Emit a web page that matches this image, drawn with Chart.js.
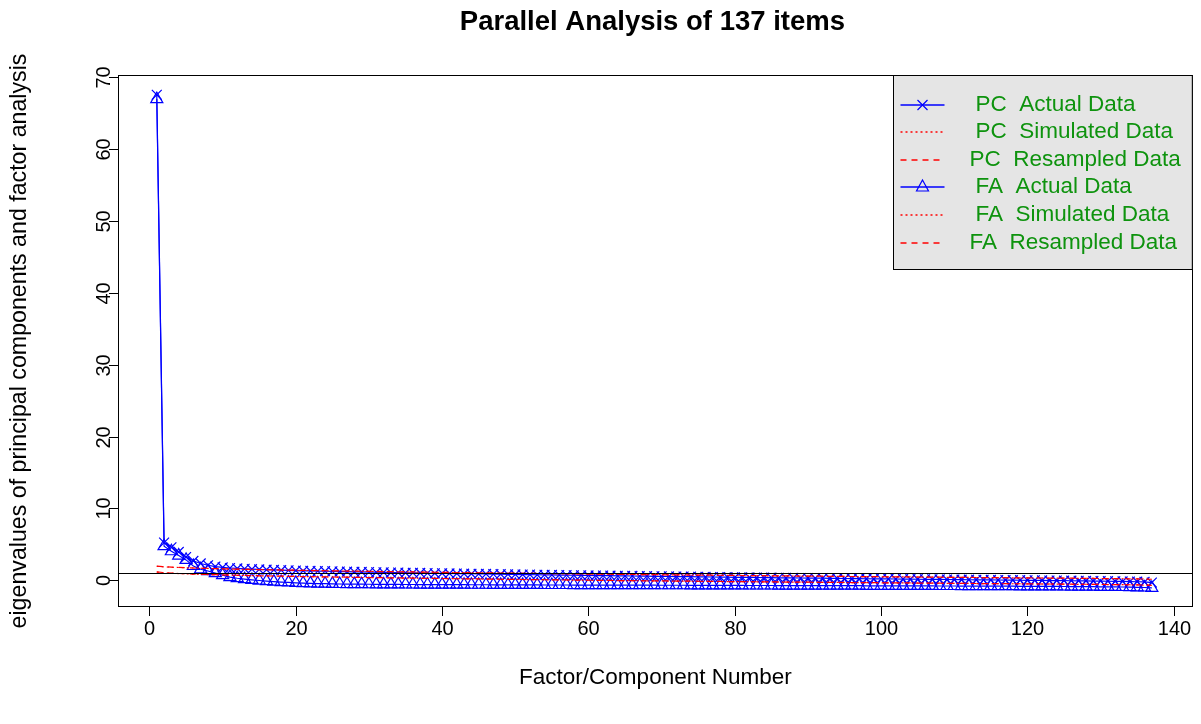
<!DOCTYPE html>
<html>
<head>
<meta charset="utf-8">
<script src="https://cdn.jsdelivr.net/npm/chart.js@4.4.1/dist/chart.umd.min.js"></script>
<style>
  body { margin: 0; background: #fff; }
  #wrap { width: 1201px; height: 724px; }
</style>
</head>
<body>
<div id="wrap"><canvas id="paChart" width="1201" height="724"></canvas></div>
<script>
const chartTitle = 'Parallel Analysis of 137 items';
const xTitle = 'Factor/Component Number';
const yTitle = 'eigenvalues of principal components and factor analysis';

const factors = Array.from({ length: 137 }, (_, i) => i + 1);
const xTicks = [0, 20, 40, 60, 80, 100, 120, 140];
const yTicks = [0, 10, 20, 30, 40, 50, 60, 70];

const pcActual = [
  67.5, 5.25, 4.6, 3.95, 3.25, 2.7, 2.35, 2.1, 1.92, 1.8,
  1.72, 1.66, 1.61, 1.56, 1.52, 1.48, 1.45, 1.42, 1.39, 1.36,
  1.33, 1.31, 1.29, 1.27, 1.25, 1.23, 1.21, 1.19, 1.17, 1.15,
  1.13, 1.11, 1.09, 1.08, 1.06, 1.04, 1.03, 1.01, 0.99, 0.98,
  0.96, 0.95, 0.93, 0.92, 0.90, 0.89, 0.87, 0.86, 0.84, 0.83,
  0.81, 0.80, 0.78, 0.77, 0.76, 0.74, 0.73, 0.71, 0.70, 0.69,
  0.67, 0.66, 0.65, 0.63, 0.62, 0.61, 0.59, 0.58, 0.57, 0.56,
  0.54, 0.53, 0.52, 0.51, 0.49, 0.48, 0.47, 0.46, 0.45, 0.43,
  0.42, 0.41, 0.40, 0.39, 0.38, 0.36, 0.35, 0.34, 0.33, 0.32,
  0.31, 0.30, 0.29, 0.27, 0.26, 0.25, 0.24, 0.23, 0.22, 0.21,
  0.20, 0.19, 0.18, 0.17, 0.16, 0.15, 0.14, 0.13, 0.12, 0.11,
  0.10, 0.09, 0.08, 0.07, 0.06, 0.05, 0.04, 0.03, 0.02, 0.01,
  0.00, -0.01, -0.02, -0.03, -0.04, -0.05, -0.06, -0.08, -0.09, -0.10,
  -0.12, -0.13, -0.15, -0.17, -0.19, -0.22, -0.30
];

const pcSimulated = [
  1.95, 1.88, 1.83, 1.79, 1.75, 1.72, 1.69, 1.66, 1.63, 1.61,
  1.58, 1.56, 1.54, 1.52, 1.50, 1.48, 1.46, 1.44, 1.42, 1.41,
  1.39, 1.37, 1.36, 1.34, 1.32, 1.31, 1.29, 1.28, 1.26, 1.25,
  1.23, 1.22, 1.21, 1.19, 1.18, 1.17, 1.15, 1.14, 1.13, 1.11,
  1.10, 1.09, 1.08, 1.06, 1.05, 1.04, 1.03, 1.02, 1.00, 0.99,
  0.98, 0.97, 0.96, 0.95, 0.94, 0.92, 0.91, 0.90, 0.89, 0.88,
  0.87, 0.86, 0.85, 0.84, 0.83, 0.82, 0.81, 0.80, 0.79, 0.78,
  0.77, 0.76, 0.75, 0.74, 0.73, 0.72, 0.71, 0.70, 0.69, 0.68,
  0.67, 0.66, 0.65, 0.64, 0.63, 0.62, 0.62, 0.61, 0.60, 0.59,
  0.58, 0.57, 0.56, 0.55, 0.55, 0.54, 0.53, 0.52, 0.51, 0.50,
  0.50, 0.49, 0.48, 0.47, 0.46, 0.45, 0.45, 0.44, 0.43, 0.42,
  0.41, 0.41, 0.40, 0.39, 0.38, 0.37, 0.37, 0.36, 0.35, 0.34,
  0.33, 0.33, 0.32, 0.31, 0.30, 0.29, 0.29, 0.28, 0.27, 0.26,
  0.25, 0.24, 0.23, 0.22, 0.21, 0.19, 0.16
];

const pcResampled = [
  1.98, 1.90, 1.84, 1.80, 1.76, 1.72, 1.69, 1.67, 1.64, 1.61,
  1.59, 1.56, 1.54, 1.52, 1.50, 1.48, 1.47, 1.45, 1.43, 1.41,
  1.39, 1.38, 1.36, 1.34, 1.33, 1.31, 1.30, 1.28, 1.27, 1.25,
  1.24, 1.22, 1.21, 1.20, 1.18, 1.17, 1.16, 1.14, 1.13, 1.12,
  1.10, 1.09, 1.08, 1.07, 1.06, 1.04, 1.03, 1.02, 1.01, 1.00,
  0.98, 0.97, 0.96, 0.95, 0.94, 0.93, 0.92, 0.91, 0.89, 0.88,
  0.87, 0.86, 0.85, 0.84, 0.83, 0.82, 0.81, 0.80, 0.79, 0.78,
  0.77, 0.76, 0.75, 0.74, 0.73, 0.72, 0.72, 0.71, 0.70, 0.69,
  0.68, 0.67, 0.66, 0.65, 0.64, 0.63, 0.62, 0.61, 0.60, 0.60,
  0.59, 0.58, 0.57, 0.56, 0.55, 0.54, 0.53, 0.53, 0.52, 0.51,
  0.50, 0.49, 0.48, 0.48, 0.47, 0.46, 0.45, 0.44, 0.43, 0.43,
  0.42, 0.41, 0.40, 0.39, 0.39, 0.38, 0.37, 0.36, 0.35, 0.35,
  0.34, 0.33, 0.32, 0.31, 0.31, 0.30, 0.29, 0.28, 0.27, 0.26,
  0.25, 0.24, 0.23, 0.22, 0.20, 0.19, 0.16
];

const faActual = [
  66.9, 4.75, 4.05, 3.45, 2.85, 2.0, 1.55, 1.3, 1.0, 0.72,
  0.45, 0.30, 0.18, 0.07, -0.02, -0.10, -0.17, -0.23, -0.29, -0.34,
  -0.38, -0.41, -0.44, -0.46, -0.48, -0.50, -0.51, -0.52, -0.53, -0.54,
  -0.55, -0.55, -0.56, -0.56, -0.57, -0.57, -0.58, -0.58, -0.59, -0.59,
  -0.60, -0.60, -0.60, -0.61, -0.61, -0.61, -0.62, -0.62, -0.62, -0.63,
  -0.63, -0.63, -0.63, -0.64, -0.64, -0.64, -0.64, -0.65, -0.65, -0.65,
  -0.65, -0.66, -0.66, -0.66, -0.66, -0.67, -0.67, -0.67, -0.67, -0.68,
  -0.68, -0.68, -0.68, -0.69, -0.69, -0.69, -0.69, -0.70, -0.70, -0.70,
  -0.70, -0.71, -0.71, -0.71, -0.71, -0.72, -0.72, -0.72, -0.72, -0.73,
  -0.73, -0.73, -0.73, -0.74, -0.74, -0.74, -0.74, -0.75, -0.75, -0.75,
  -0.75, -0.76, -0.76, -0.76, -0.77, -0.77, -0.77, -0.78, -0.78, -0.78,
  -0.79, -0.79, -0.79, -0.80, -0.80, -0.81, -0.81, -0.81, -0.82, -0.82,
  -0.83, -0.83, -0.84, -0.84, -0.85, -0.86, -0.86, -0.87, -0.88, -0.89,
  -0.90, -0.91, -0.92, -0.94, -0.96, -0.99, -1.05
];

const faSimulated = [
  1.15, 1.06, 1.00, 0.95, 0.91, 0.87, 0.84, 0.81, 0.78, 0.75,
  0.73, 0.70, 0.68, 0.66, 0.64, 0.62, 0.60, 0.58, 0.56, 0.54,
  0.53, 0.51, 0.49, 0.48, 0.46, 0.45, 0.43, 0.42, 0.40, 0.39,
  0.37, 0.36, 0.35, 0.33, 0.32, 0.31, 0.29, 0.28, 0.27, 0.25,
  0.24, 0.23, 0.22, 0.20, 0.19, 0.18, 0.17, 0.16, 0.14, 0.13,
  0.12, 0.11, 0.10, 0.09, 0.07, 0.06, 0.05, 0.04, 0.03, 0.02,
  0.01, 0.00, -0.01, -0.02, -0.03, -0.04, -0.05, -0.06, -0.07, -0.08,
  -0.09, -0.10, -0.11, -0.12, -0.13, -0.14, -0.15, -0.16, -0.17, -0.18,
  -0.18, -0.19, -0.20, -0.21, -0.22, -0.23, -0.24, -0.24, -0.25, -0.26,
  -0.27, -0.28, -0.28, -0.29, -0.30, -0.31, -0.32, -0.32, -0.33, -0.34,
  -0.35, -0.35, -0.36, -0.37, -0.38, -0.38, -0.39, -0.40, -0.41, -0.41,
  -0.42, -0.43, -0.44, -0.44, -0.45, -0.46, -0.47, -0.47, -0.48, -0.49,
  -0.50, -0.50, -0.51, -0.52, -0.53, -0.54, -0.55, -0.55, -0.56, -0.57,
  -0.58, -0.59, -0.60, -0.62, -0.63, -0.65, -0.68
];

const faResampled = [
  1.18, 1.08, 1.01, 0.96, 0.92, 0.88, 0.84, 0.81, 0.79, 0.76,
  0.73, 0.71, 0.69, 0.66, 0.64, 0.62, 0.61, 0.59, 0.57, 0.55,
  0.53, 0.52, 0.50, 0.48, 0.47, 0.45, 0.44, 0.42, 0.41, 0.39,
  0.38, 0.37, 0.35, 0.34, 0.32, 0.31, 0.30, 0.28, 0.27, 0.26,
  0.25, 0.23, 0.22, 0.21, 0.20, 0.18, 0.17, 0.16, 0.15, 0.14,
  0.12, 0.11, 0.10, 0.09, 0.08, 0.07, 0.06, 0.05, 0.03, 0.02,
  0.01, 0.00, -0.01, -0.02, -0.03, -0.04, -0.05, -0.06, -0.07, -0.08,
  -0.08, -0.09, -0.10, -0.11, -0.12, -0.13, -0.14, -0.15, -0.16, -0.17,
  -0.18, -0.19, -0.19, -0.20, -0.21, -0.22, -0.23, -0.24, -0.24, -0.25,
  -0.26, -0.27, -0.28, -0.28, -0.29, -0.30, -0.31, -0.32, -0.32, -0.33,
  -0.34, -0.35, -0.35, -0.36, -0.37, -0.38, -0.38, -0.39, -0.40, -0.41,
  -0.41, -0.42, -0.43, -0.44, -0.44, -0.45, -0.46, -0.47, -0.47, -0.48,
  -0.49, -0.50, -0.50, -0.51, -0.52, -0.53, -0.54, -0.54, -0.55, -0.56,
  -0.57, -0.58, -0.60, -0.61, -0.63, -0.65, -0.69
];

const legendLabels = [
  'PC  Actual Data', 'PC  Simulated Data', 'PC  Resampled Data',
  'FA  Actual Data', 'FA  Simulated Data', 'FA  Resampled Data'
];

const BLUE = '#0000ff';
const RED = '#ff0000';
const TEXT_GREEN = '#0e930e';
const FONT = '"Liberation Sans", Arial, sans-serif';

const toPoints = vals => vals.map((v, i) => ({ x: factors[i], y: v }));

// legend rows: line style + marker, like R's legend()
const legendRows = [
  { color: BLUE, dash: [], marker: 'cross', dx: 82 },
  { color: RED, dash: [2, 3], marker: null, dx: 82 },
  { color: RED, dash: [6, 5], marker: null, dx: 76 },
  { color: BLUE, dash: [], marker: 'triangle', dx: 82 },
  { color: RED, dash: [2, 3], marker: null, dx: 82 },
  { color: RED, dash: [6, 5], marker: null, dx: 76 }
];

const rBasePlot = {
  id: 'rBasePlot',
  afterDatasetsDraw(chart) {
    const { ctx, chartArea: a, scales: { x, y } } = chart;
    ctx.save();
    ctx.lineWidth = 1;
    ctx.setLineDash([]);

    // abline(h = 1)
    const y1 = Math.round(y.getPixelForValue(1)) + 0.5;
    ctx.strokeStyle = '#000';
    ctx.beginPath();
    ctx.moveTo(a.left, y1);
    ctx.lineTo(a.right, y1);
    ctx.stroke();

    // box
    ctx.strokeRect(Math.round(a.left) + 0.5, Math.round(a.top) + 0.5,
      Math.round(a.right - a.left) - 1, Math.round(a.bottom - a.top) - 1);

    // x ticks + labels
    ctx.fillStyle = '#000';
    ctx.font = '20px ' + FONT;
    ctx.textAlign = 'center';
    ctx.textBaseline = 'middle';
    xTicks.forEach(t => {
      const px = Math.round(x.getPixelForValue(t)) + 0.5;
      ctx.beginPath();
      ctx.moveTo(px, a.bottom);
      ctx.lineTo(px, a.bottom + 9);
      ctx.stroke();
      ctx.fillText(String(t), px, a.bottom + 22);
    });

    // y ticks + rotated labels
    yTicks.forEach(t => {
      const py = Math.round(y.getPixelForValue(t)) + 0.5;
      ctx.beginPath();
      ctx.moveTo(a.left, py);
      ctx.lineTo(a.left - 9, py);
      ctx.stroke();
      ctx.save();
      ctx.translate(a.left - 14, py);
      ctx.rotate(-Math.PI / 2);
      ctx.fillText(String(t), 0, 0);
      ctx.restore();
    });

    // titles
    const cx = (a.left + a.right) / 2;
    ctx.font = '22.5px ' + FONT;
    ctx.fillText(xTitle, cx, 678);
    ctx.save();
    ctx.translate(20, (a.top + a.bottom) / 2);
    ctx.rotate(-Math.PI / 2);
    ctx.font = '23.2px ' + FONT;
    ctx.fillText(yTitle, 0, 0);
    ctx.restore();
    ctx.font = 'bold 27.5px ' + FONT;
    ctx.fillText(chartTitle, cx - 3, 22);

    // legend (topright, bg gray90)
    const lx = 893.5, ly = a.top + 0.5, lw = a.right - 894, lh = 194;
    ctx.fillStyle = '#e5e5e5';
    ctx.fillRect(lx, ly, lw, lh);
    ctx.strokeStyle = '#000';
    ctx.strokeRect(lx, ly, lw, lh);
    ctx.font = '22.5px ' + FONT;
    ctx.textAlign = 'left';
    legendRows.forEach((row, i) => {
      const ry = Math.round(ly + 29 + i * 27.6);
      ctx.lineWidth = 1.5;
      ctx.strokeStyle = row.color;
      ctx.setLineDash(row.dash);
      ctx.beginPath();
      ctx.moveTo(lx + 7, ry);
      ctx.lineTo(lx + 51, ry);
      ctx.stroke();
      ctx.setLineDash([]);
      ctx.lineWidth = 1.2;
      const mx = lx + 29;
      if (row.marker === 'cross') {
        ctx.strokeStyle = row.color;
        ctx.beginPath();
        ctx.moveTo(mx - 5, ry - 5); ctx.lineTo(mx + 5, ry + 5);
        ctx.moveTo(mx + 5, ry - 5); ctx.lineTo(mx - 5, ry + 5);
        ctx.stroke();
      } else if (row.marker === 'triangle') {
        ctx.strokeStyle = row.color;
        ctx.beginPath();
        ctx.moveTo(mx, ry - 7); ctx.lineTo(mx + 6, ry + 4); ctx.lineTo(mx - 6, ry + 4);
        ctx.closePath();
        ctx.stroke();
      }
      ctx.fillStyle = TEXT_GREEN;
      ctx.fillText(legendLabels[i], lx + row.dx, ry);
    });

    ctx.restore();
  }
};

const ctx = document.getElementById('paChart').getContext('2d');

new Chart(ctx, {
  type: 'line',
  data: {
    datasets: [
      { label: legendLabels[0], data: toPoints(pcActual), borderColor: BLUE, borderWidth: 1.2,
        pointStyle: 'crossRot', pointRadius: 7, pointBorderColor: BLUE, pointBorderWidth: 1.2, order: 3 },
      { label: legendLabels[3], data: toPoints(faActual), borderColor: BLUE, borderWidth: 1.2,
        pointStyle: 'triangle', pointRadius: 7, pointBorderColor: BLUE, pointBackgroundColor: 'transparent',
        pointBorderWidth: 1.2, order: 2 },
      { label: legendLabels[1], data: toPoints(pcSimulated), borderColor: RED, borderWidth: 1.2,
        borderDash: [2, 3], pointRadius: 0, order: 1 },
      { label: legendLabels[2], data: toPoints(pcResampled), borderColor: RED, borderWidth: 1.2,
        borderDash: [6, 5], pointRadius: 0, order: 1 },
      { label: legendLabels[4], data: toPoints(faSimulated), borderColor: RED, borderWidth: 1.2,
        borderDash: [2, 3], pointRadius: 0, order: 1 },
      { label: legendLabels[5], data: toPoints(faResampled), borderColor: RED, borderWidth: 1.2,
        borderDash: [6, 5], pointRadius: 0, order: 1 }
    ]
  },
  options: {
    responsive: false,
    animation: false,
    events: [],
    layout: { padding: { top: 75, right: 4, left: 0, bottom: 0 } },
    plugins: { legend: { display: false }, title: { display: false }, tooltip: { enabled: false } },
    scales: {
      x: {
        type: 'linear', min: -4.3, max: 142.6,
        grid: { display: false }, border: { display: false },
        ticks: { display: false },
        afterFit: scale => { scale.height = 117; }
      },
      y: {
        type: 'linear', min: -3.7, max: 70.25,
        grid: { display: false }, border: { display: false },
        ticks: { display: false },
        afterFit: scale => { scale.width = 118; }
      }
    }
  },
  plugins: [rBasePlot]
});
</script>
</body>
</html>
